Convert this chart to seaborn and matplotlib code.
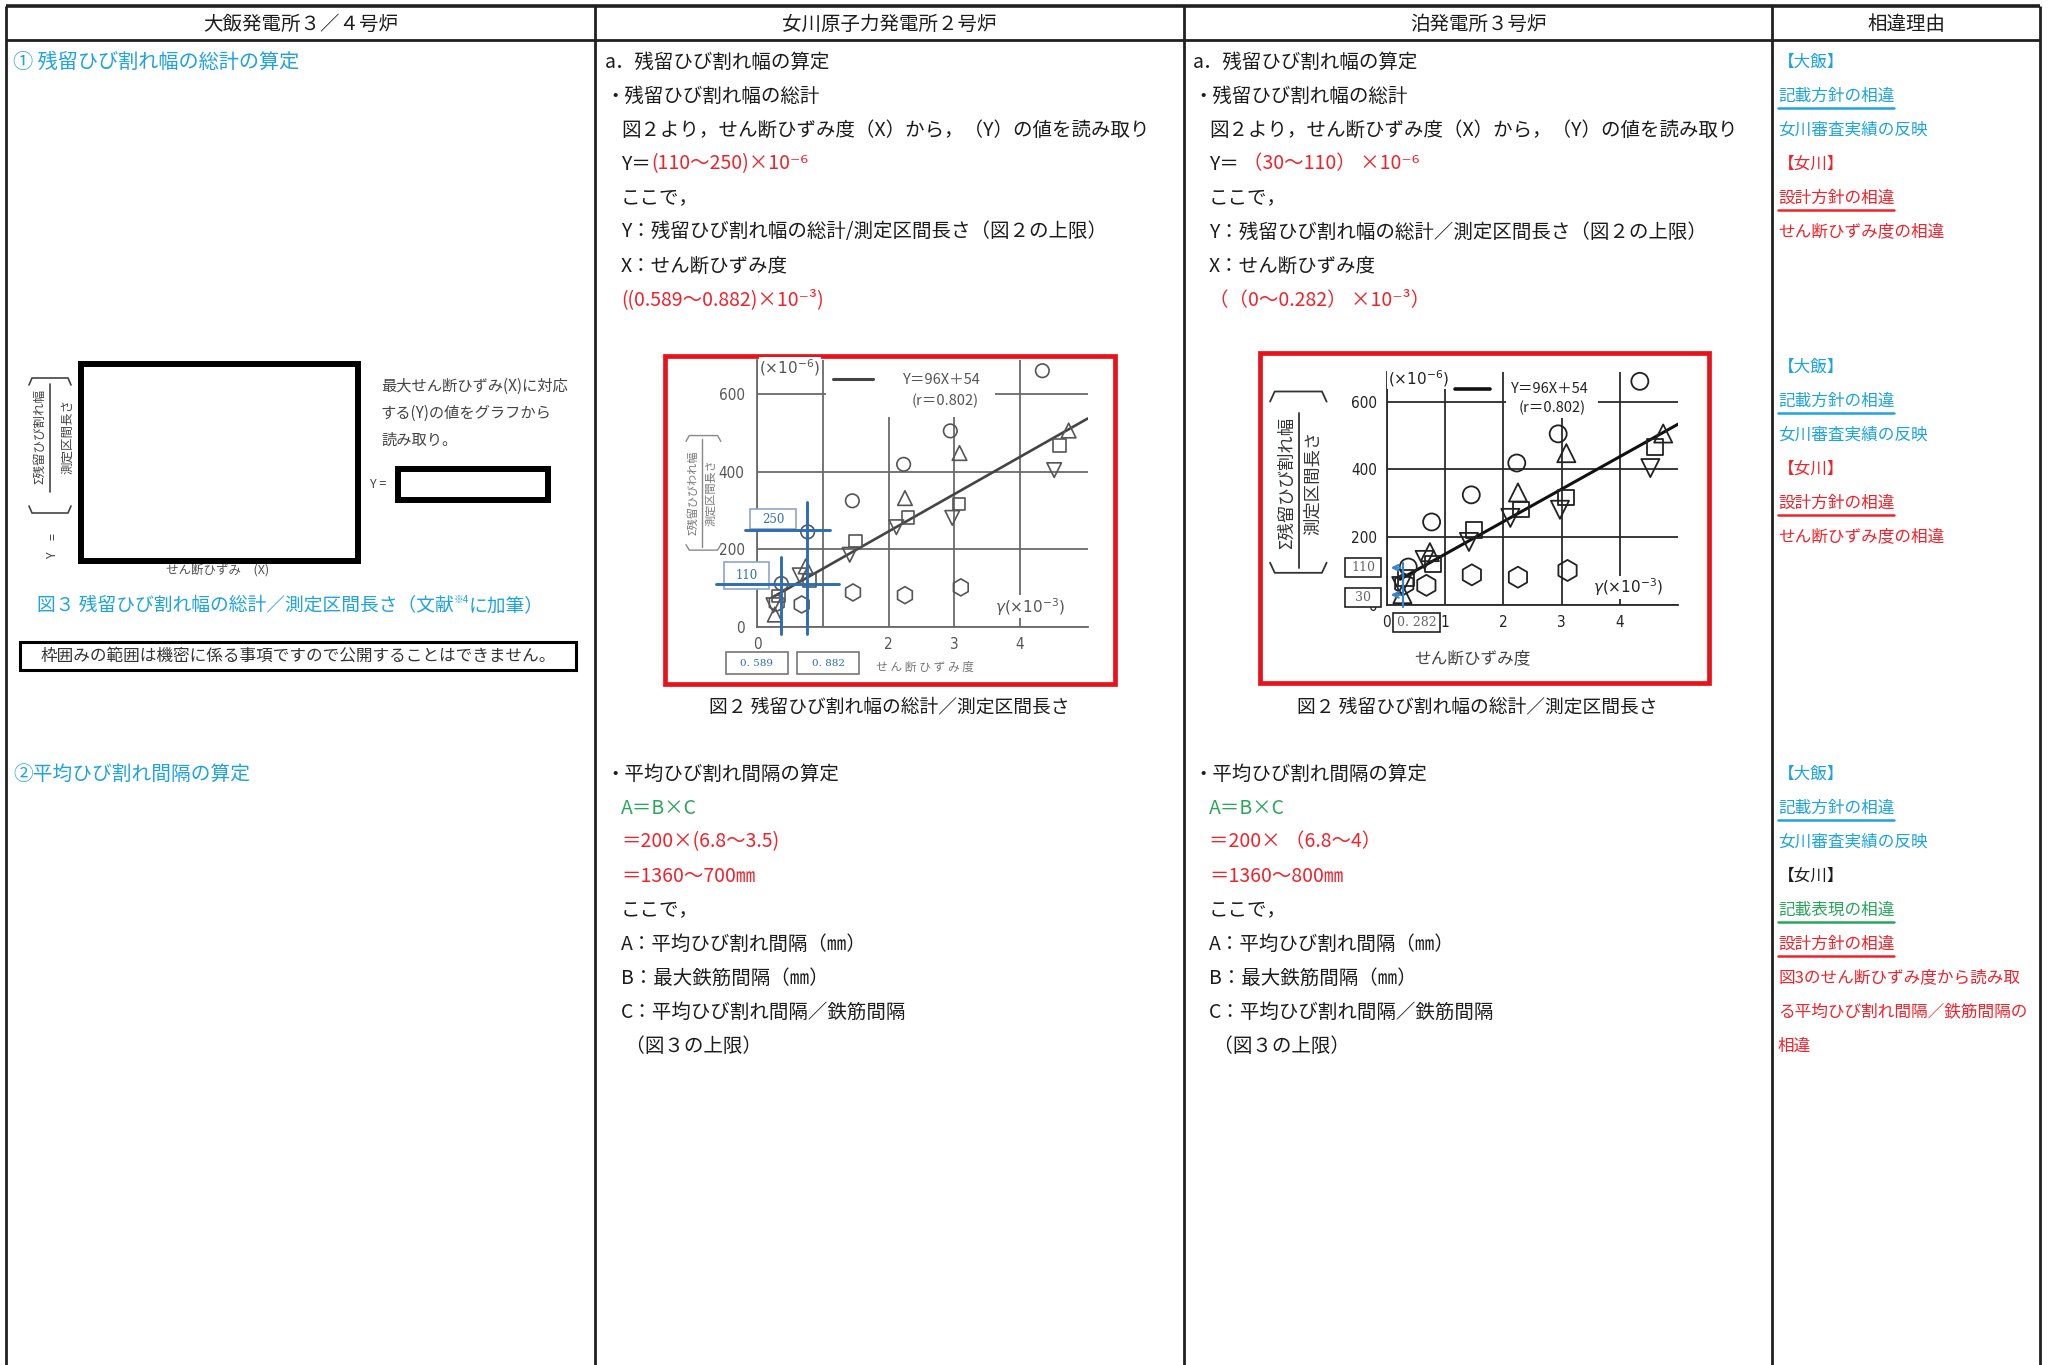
import numpy as np
import pandas as pd
import matplotlib.pyplot as plt
import matplotlib.patches as patches
import seaborn as sns

# ---- data -------------------------------------------------------------
W, H = 2049, 1365

col_titles = ["大飯発電所３／４号炉", "女川原子力発電所２号炉", "泊発電所３号炉", "相違理由"]
col_edges = [6, 595, 1184, 1772, 2040]

# 図２ (shear strain x1e-3 vs residual crack width / length x1e-6)
circle_x = [0.37, 0.77, 1.45, 2.23, 2.94, 4.34]
circle_y = [112, 245, 325, 419, 505, 660]
hexagon_x = [0.30, 0.68, 1.46, 2.25, 3.10]
hexagon_y = [62, 58, 89, 82, 102]
tri_up_x = [0.27, 0.74, 2.25, 3.08, 4.74]
tri_up_y = [32, 156, 332, 448, 506]
square_x = [0.33, 0.80, 1.50, 2.30, 3.07, 4.60]
square_y = [80, 120, 221, 282, 317, 467]
tri_down_x = [0.25, 0.65, 1.41, 2.12, 2.97, 4.52]
tri_down_y = [56, 133, 186, 257, 281, 404]
fit_x = [0.23, 5.03]
fit_y = [76, 537]
x_ticks = [0, 1, 2, 3, 4]
y_ticks = [0, 200, 400, 600]

# values in each column
onagawa_read_y = [110, 250]
onagawa_read_x = ["0. 589", "0. 882"]
onagawa_read_marks = [0.36, 0.76]
tomari_read_y = [110, 30]
tomari_read_x = 0.282

CYAN = "#1fa3df"
RED = "#f0232b"
GREEN = "#2aa65c"
BLACK = "#1c1c1c"
LINE = "#202020"

onagawa_top = [
    [("a．残留ひび割れ幅の算定", BLACK)],
    [("・残留ひび割れ幅の総計", BLACK)],
    [("図２より，せん断ひずみ度（X）から，（Y）の値を読み取り", BLACK)],
    [("Y＝", BLACK), ("(110～250)×10⁻⁶", RED)],
    [("ここで，", BLACK)],
    [("Y：残留ひび割れ幅の総計/測定区間長さ（図２の上限）", BLACK)],
    [("X：せん断ひずみ度", BLACK)],
    [("((0.589～0.882)×10⁻³)", RED)],
]
tomari_top = [
    [("a．残留ひび割れ幅の算定", BLACK)],
    [("・残留ひび割れ幅の総計", BLACK)],
    [("図２より，せん断ひずみ度（X）から，（Y）の値を読み取り", BLACK)],
    [("Y＝ ", BLACK), ("（30～110） ×10⁻⁶", RED)],
    [("ここで，", BLACK)],
    [("Y：残留ひび割れ幅の総計／測定区間長さ（図２の上限）", BLACK)],
    [("X：せん断ひずみ度", BLACK)],
    [("（（0～0.282） ×10⁻³）", RED)],
]
onagawa_bottom = [
    [("・平均ひび割れ間隔の算定", BLACK)],
    [("A＝B×C", GREEN)],
    [("＝200×(6.8～3.5)", RED)],
    [("＝1360～700㎜", RED)],
    [("ここで，", BLACK)],
    [("A：平均ひび割れ間隔（㎜）", BLACK)],
    [("B：最大鉄筋間隔（㎜）", BLACK)],
    [("C：平均ひび割れ間隔／鉄筋間隔", BLACK)],
    [(" （図３の上限）", BLACK)],
]
tomari_bottom = [
    [("・平均ひび割れ間隔の算定", BLACK)],
    [("A＝B×C", GREEN)],
    [("＝200× （6.8～4）", RED)],
    [("＝1360～800㎜", RED)],
    [("ここで，", BLACK)],
    [("A：平均ひび割れ間隔（㎜）", BLACK)],
    [("B：最大鉄筋間隔（㎜）", BLACK)],
    [("C：平均ひび割れ間隔／鉄筋間隔", BLACK)],
    [(" （図３の上限）", BLACK)],
]
reason_top = [("【大飯】", CYAN, False), ("記載方針の相違", CYAN, True), ("女川審査実績の反映", CYAN, False),
              ("【女川】", RED, False), ("設計方針の相違", RED, True), ("せん断ひずみ度の相違", RED, False)]
reason_bottom = [("【大飯】", CYAN, False), ("記載方針の相違", CYAN, True), ("女川審査実績の反映", CYAN, False),
                 ("【女川】", BLACK, False), ("記載表現の相違", GREEN, True), ("設計方針の相違", RED, True),
                 ("図3のせん断ひずみ度から読み取", RED, False), ("る平均ひび割れ間隔／鉄筋間隔の", RED, False),
                 ("相違", RED, False)]

pts = pd.concat([
    pd.DataFrame({"gamma": circle_x, "ratio": circle_y, "shape": "circle"}),
    pd.DataFrame({"gamma": hexagon_x, "ratio": hexagon_y, "shape": "hexagon"}),
    pd.DataFrame({"gamma": tri_up_x, "ratio": tri_up_y, "shape": "tri_up"}),
    pd.DataFrame({"gamma": square_x, "ratio": square_y, "shape": "square"}),
    pd.DataFrame({"gamma": tri_down_x, "ratio": tri_down_y, "shape": "tri_down"}),
], ignore_index=True)
marker_map = {"circle": "o", "hexagon": "h", "tri_up": "^", "square": "s", "tri_down": "v"}

# ---- figure -----------------------------------------------------------
sns.set_style("white")
plt.rcParams["font.family"] = ["Noto Sans CJK JP", "DejaVu Sans"]
plt.rcParams["mathtext.fontset"] = "dejavusans"

fig = plt.figure(figsize=(W / 100, H / 100), dpi=100)
bg = fig.add_axes([0, 0, 1, 1])
bg.set_xlim(0, W)
bg.set_ylim(H, 0)
bg.axis("off")
renderer = fig.canvas.get_renderer()

# table grid
bg.hlines(6, col_edges[0], col_edges[-1], color=LINE, lw=2.6)
bg.hlines(40, col_edges[0], col_edges[-1], color=LINE, lw=2)
bg.vlines(col_edges, 6, H, color=LINE, lw=2)
for i, title in enumerate(col_titles):
    bg.text((col_edges[i] + col_edges[i + 1]) / 2, 24, title, fontsize=14,
            ha="center", va="center", color=BLACK)


def put_line(x, y, segs, fs=14, underline=False):
    # segments: (text, colour) or (text, colour, fontsize, dy)
    x0 = x
    for seg in segs:
        txt, col = seg[0], seg[1]
        sfs = seg[2] if len(seg) > 2 else fs
        dy = seg[3] if len(seg) > 3 else 0
        t = bg.text(x, y + dy, txt, color=col, fontsize=sfs, ha="left", va="center")
        x += t.get_window_extent(renderer).width
    if underline:
        bg.plot([x0, x], [y + 12, y + 12], color=segs[0][1], lw=1.8)


def put_block(lines, x_first, x_rest, y0, n_first=2):
    for k, segs in enumerate(lines):
        put_line(x_first if k < n_first else x_rest, y0 + 34 * k, segs)


put_block(onagawa_top, 605, 621, 62)
put_block(tomari_top, 1193, 1209, 62)
put_block(onagawa_bottom, 605, 621, 774, n_first=1)
put_block(tomari_bottom, 1193, 1209, 774, n_first=1)

for y0, items in [(62, reason_top), (367, reason_top), (774, reason_bottom)]:
    for k, (txt, col, ul) in enumerate(items):
        put_line(1778, y0 + 34 * k, [(txt, col)], fs=12, underline=ul)

# ---- left column (大飯) ------------------------------------------------
put_line(13, 62, [("① 残留ひび割れ幅の総計の算定", CYAN)], fs=14.5)
put_line(13, 774, [("②平均ひび割れ間隔の算定", CYAN)], fs=14.2)

bg.add_patch(patches.Rectangle((81, 364), 277, 197, fill=False, ec="black", lw=4.3))
bg.add_patch(patches.Rectangle((398, 469), 150, 31, fill=False, ec="black", lw=4.3))
bg.text(40, 437, "Σ残留ひび割れ幅", rotation=90, fontsize=9, color="#444", ha="center", va="center")
bg.text(68, 437, "測定区間長さ", rotation=90, fontsize=9, color="#444", ha="center", va="center")
bg.plot([50, 50], [384, 492], color="#444", lw=1.2)
bg.plot([29, 32, 68, 71], [385, 378, 378, 385], color="#444", lw=1.2)
bg.plot([29, 32, 68, 71], [506, 513, 513, 506], color="#444", lw=1.2)
bg.text(53, 537, "=", rotation=90, fontsize=9, color="#444", ha="center", va="center")
bg.text(53, 555, "Y", rotation=90, fontsize=9, color="#444", ha="center", va="center")
for k, s in enumerate(["最大せん断ひずみ(X)に対応", "する(Y)の値をグラフから", "読み取り。"]):
    bg.text(381, 386 + 27 * k, s, fontsize=11, color="#444", ha="left", va="center")
bg.text(370, 485, "Y =", fontsize=9, color="#444", ha="left", va="center")
bg.text(218, 571, "せん断ひずみ　(X)", fontsize=9, color="#555", ha="center", va="center")
put_line(37, 606, [("図３ 残留ひび割れ幅の総計／測定区間長さ（文献", CYAN),
                   ("※4", CYAN, 7, -6), ("に加筆）", CYAN)], fs=13.5)
bg.add_patch(patches.Rectangle((20, 642), 556, 28, fill=False, ec="black", lw=2.2))
bg.text(298, 656, "枠囲みの範囲は機密に係る事項ですので公開することはできません。",
        fontsize=12, color="#333", ha="center", va="center")

# red frames and captions of the two 図２
bg.add_patch(patches.Rectangle((665, 356), 450, 328, fill=False, ec="#e8121b", lw=3.4))
bg.add_patch(patches.Rectangle((1260, 353), 449, 330, fill=False, ec="#e8121b", lw=3.4))
bg.text(889, 707, "図２ 残留ひび割れ幅の総計／測定区間長さ", fontsize=13.5, color=BLACK, ha="center", va="center")
bg.text(1477, 707, "図２ 残留ひび割れ幅の総計／測定区間長さ", fontsize=13.5, color=BLACK, ha="center", va="center")


def make_axes(x0, y0, kx, ky, xmax, ymax):
    ax = fig.add_axes([x0 / W, 1 - y0 / H, xmax * kx / W, ymax * ky / H])
    ax.set_xlim(0, xmax)
    ax.set_ylim(0, ymax)
    ax.patch.set_alpha(0)
    return ax


def style_chart(ax, gc, lw, tc, fs, xlabels, ypad, xpad):
    for s in ["top", "right"]:
        ax.spines[s].set_visible(False)
    for s in ["left", "bottom"]:
        ax.spines[s].set_color(gc)
        ax.spines[s].set_linewidth(lw)
    ax.set_xticks(x_ticks)
    ax.set_xticklabels(xlabels)
    ax.set_yticks(y_ticks)
    ax.grid(True, color=gc, lw=lw)
    ax.set_axisbelow(True)
    ax.tick_params(axis="both", direction="out", length=4, width=lw, color=gc,
                   labelcolor=tc, labelsize=fs)
    ax.tick_params(axis="y", pad=ypad)
    ax.tick_params(axis="x", pad=xpad)
    for lab in ax.get_xticklabels() + ax.get_yticklabels():
        lab.set_fontfamily("DejaVu Sans")
        lab.set_fontstretch("condensed")
    ax.set_xlabel("")
    ax.set_ylabel("")


def value_box(ax, x0, x1, y0, y1, txt, ec, tc, fs):
    ax.add_patch(patches.Rectangle((x0, y0), x1 - x0, y1 - y0, fc="white", ec=ec,
                                   lw=1.2, zorder=6, clip_on=False))
    ax.text((x0 + x1) / 2, (y0 + y1) / 2, txt, fontsize=fs, color=tc, ha="center",
            va="center", zorder=7, fontfamily="DejaVu Serif")


# ---- 女川 chart ----------------------------------------------------------
ax1 = make_axes(757, 627, 65.75, 0.3883, 5.03, 688)
g1 = "#6a6a6a"
ax1.add_patch(patches.Rectangle((1.05, 540), 2.57, 150, fc="white", ec="none", zorder=1.5))
sns.scatterplot(data=pts, x="gamma", y="ratio", style="shape", markers=marker_map,
                size="shape", sizes={"circle": 95, "hexagon": 150, "tri_up": 110,
                                     "square": 80, "tri_down": 110},
                color=g1, facecolor="none", edgecolor="#555", linewidth=1.2,
                legend=False, ax=ax1, zorder=4, clip_on=False)
sns.lineplot(x=fit_x, y=fit_y, color="#444", linewidth=1.9, ax=ax1, zorder=3)
style_chart(ax1, g1, 1.3, "#555", 11, ["0", "", "2", "3", "4"], 5, 3)
ax1.plot([1.16, 1.77], [638, 638], color="#444", lw=2.2, zorder=3)
ax1.text(2.81, 636, "Y＝96X＋54", fontsize=10.5, color="#555", ha="center", va="center", zorder=3)
ax1.text(2.86, 582, "(r＝0.802)", fontsize=10.5, color="#555", ha="center", va="center", zorder=3)
ax1.text(0.5, 668, r"$(\times10^{-6})$", fontsize=11, color="#555", ha="center", va="center",
         zorder=3, bbox=dict(fc="white", ec="none", pad=0.5))
ax1.text(4.15, 52, r"$\gamma(\times10^{-3})$", fontsize=11, color="#555", ha="center", va="center",
         zorder=3, bbox=dict(fc="white", ec="none", pad=0.5))
ax1.text(2.56, -103, "せ ん 断 ひ ず み 度", fontsize=8.5, color="#777", ha="center", va="center")
ax1.text(-0.97, 345, "Σ残留ひびわれ幅", rotation=90, fontsize=8, color="#777", ha="center", va="center")
ax1.text(-0.70, 345, "測定区間長さ", rotation=90, fontsize=8, color="#777", ha="center", va="center")
ax1.plot([-0.84, -0.84], [205, 485], color="#888", lw=1, clip_on=False)
ax1.plot([-1.08, -1.03, -0.60, -0.55], [478, 493, 493, 478], color="#888", lw=1, clip_on=False)
ax1.plot([-1.08, -1.03, -0.60, -0.55], [212, 198, 198, 212], color="#888", lw=1, clip_on=False)

BLUE = "#2d6db4"
value_box(ax1, -0.11, 0.60, 252, 303, str(onagawa_read_y[1]), "#8ea6c6", BLUE, 8.5)
value_box(ax1, -0.50, 0.19, 97, 168, str(onagawa_read_y[0]), "#8ea6c6", BLUE, 8.5)
value_box(ax1, -0.47, 0.47, -122, -65, onagawa_read_x[0], "#777", BLUE, 7.5)
value_box(ax1, 0.61, 1.55, -122, -65, onagawa_read_x[1], "#777", BLUE, 7.5)
ax1.plot([-0.63, 1.24], [onagawa_read_y[0]] * 2, color=BLUE, lw=2.1, zorder=8, clip_on=False)
ax1.plot([-0.18, 1.11], [onagawa_read_y[1]] * 2, color=BLUE, lw=2.1, zorder=8, clip_on=False)
ax1.plot([onagawa_read_marks[0]] * 2, [-17, 181], color=BLUE, lw=2.1, zorder=8, clip_on=False)
ax1.plot([onagawa_read_marks[1]] * 2, [-17, 323], color=BLUE, lw=2.1, zorder=8, clip_on=False)

# ---- 泊 chart ------------------------------------------------------------
ax2 = make_axes(1386.7, 605, 58.33, 0.3389, 5.0, 688)
g2 = "#2a2a2a"
ax2.add_patch(patches.Rectangle((2.05, 551), 1.57, 140, fc="white", ec="none", zorder=1.5))
sns.scatterplot(data=pts, x="gamma", y="ratio", style="shape", markers=marker_map,
                size="shape", sizes={"circle": 150, "hexagon": 230, "tri_up": 170,
                                     "square": 130, "tri_down": 170},
                color=g2, facecolor="none", edgecolor="#222", linewidth=1.3,
                legend=False, ax=ax2, zorder=4, clip_on=False)
sns.lineplot(x=fit_x, y=fit_y, color="#111", linewidth=2.2, ax=ax2, zorder=3)
style_chart(ax2, g2, 1.3, "#222", 11, [str(t) for t in x_ticks], 3, 3)
ax2.plot([1.17, 1.77], [637, 637], color="#111", lw=2.6, zorder=3)
ax2.text(2.8, 636, "Y＝96X＋54", fontsize=10.5, color="#222", ha="center", va="center", zorder=3)
ax2.text(2.83, 583, "(r＝0.802)", fontsize=10.5, color="#222", ha="center", va="center", zorder=3)
ax2.text(0.55, 669, r"$(\times10^{-6})$", fontsize=11, color="#222", ha="center", va="center",
         zorder=3, bbox=dict(fc="white", ec="none", pad=0.5))
ax2.text(4.13, 52, r"$\gamma(\times10^{-3})$", fontsize=11, color="#222", ha="center", va="center",
         zorder=3, bbox=dict(fc="white", ec="none", pad=0.5))
ax2.text(1.47, -157, "せん断ひずみ度", fontsize=12, color="#444", ha="center", va="center")
ax2.text(-1.71, 359, "Σ残留ひび割れ幅", rotation=90, fontsize=12.5, color="#333", ha="center", va="center")
ax2.text(-1.26, 359, "測定区間長さ", rotation=90, fontsize=12.5, color="#333", ha="center", va="center")
ax2.plot([-1.51, -1.51], [108, 566], color="#333", lw=1.3, clip_on=False)
ax2.plot([-2.0, -1.92, -1.11, -1.03], [600, 630, 630, 600], color="#333", lw=1.3, clip_on=False)
ax2.plot([-2.0, -1.92, -1.11, -1.03], [125, 95, 95, 125], color="#333", lw=1.3, clip_on=False)

BLUE2 = "#3a86c8"
value_box(ax2, -0.71, -0.09, 84, 138, str(tomari_read_y[0]), "#222", "#666", 9)
value_box(ax2, -0.71, -0.09, -5, 49, str(tomari_read_y[1]), "#222", "#666", 9)
value_box(ax2, 0.11, 0.91, -79, -25, f"{tomari_read_x:.3f}".replace(".", ". "), "#222", "#666", 9)
ax2.plot([tomari_read_x] * 2, [-5, 125], color=BLUE2, lw=1.6, zorder=8, clip_on=False)
for yv in tomari_read_y:
    ax2.annotate("", xy=(0.02, yv), xytext=(tomari_read_x, yv),
                 arrowprops=dict(arrowstyle="->", color=BLUE2, lw=1.6), zorder=8)

fig.savefig("out.png", dpi=100)
